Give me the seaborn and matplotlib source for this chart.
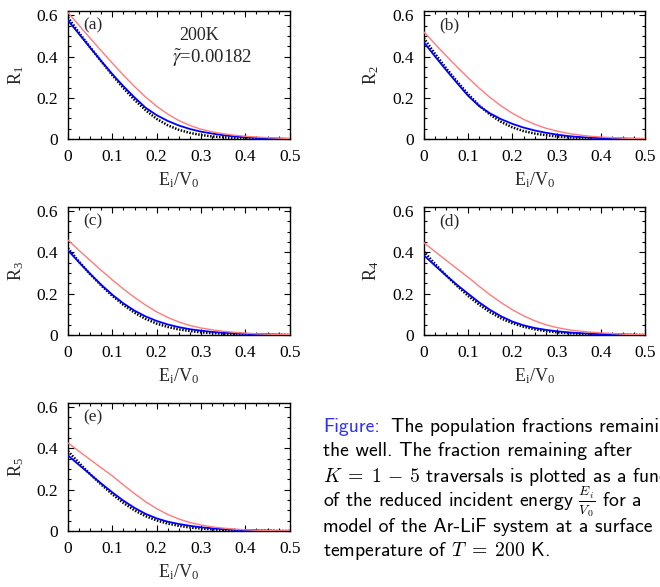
import numpy as np
import pandas as pd
import seaborn as sns
import matplotlib.pyplot as plt

# reduced incident energy E_i/V_0
energy = [0.0, 0.025, 0.05, 0.075, 0.1, 0.125, 0.15, 0.175, 0.2, 0.225, 0.25,
          0.275, 0.3, 0.325, 0.35, 0.375, 0.4, 0.425, 0.45, 0.475, 0.5]

# K = 1
red_1 = [0.613, 0.551, 0.489, 0.428, 0.368, 0.310, 0.255, 0.204, 0.159, 0.121, 0.090,
         0.066, 0.048, 0.035, 0.026, 0.019, 0.014, 0.010, 0.007, 0.005, 0.003]
blue_1 = [0.575, 0.509, 0.443, 0.378, 0.315, 0.256, 0.202, 0.152, 0.116, 0.088, 0.066,
          0.049, 0.036, 0.027, 0.019, 0.013, 0.009, 0.006, 0.004, 0.002, 0.001]
sim_1 = [0.59, 0.515, 0.445, 0.377, 0.31, 0.247, 0.19, 0.14, 0.098, 0.067, 0.045,
         0.030, 0.020, 0.013, 0.009, 0.006, 0.004, 0.002, 0.001, 0.001, 0.0]

# K = 2
red_2 = [0.52, 0.462, 0.405, 0.35, 0.297, 0.247, 0.201, 0.16, 0.125, 0.096, 0.072,
         0.053, 0.039, 0.028, 0.020, 0.014, 0.010, 0.007, 0.005, 0.003, 0.002]
blue_2 = [0.47, 0.402, 0.336, 0.272, 0.21, 0.16, 0.124, 0.096, 0.074, 0.056, 0.042,
          0.031, 0.022, 0.015, 0.010, 0.007, 0.005, 0.003, 0.002, 0.001, 0.001]
sim_2 = [0.49, 0.415, 0.345, 0.28, 0.218, 0.163, 0.118, 0.083, 0.057, 0.039, 0.027,
         0.019, 0.013, 0.009, 0.006, 0.004, 0.003, 0.002, 0.001, 0.0005, 0.0]

# K = 3
red_3 = [0.46, 0.41, 0.361, 0.313, 0.267, 0.223, 0.182, 0.145, 0.112, 0.085, 0.063,
         0.046, 0.034, 0.025, 0.018, 0.013, 0.009, 0.006, 0.004, 0.003, 0.002]
blue_3 = [0.41, 0.352, 0.296, 0.243, 0.195, 0.153, 0.118, 0.09, 0.068, 0.051, 0.038,
          0.028, 0.021, 0.015, 0.011, 0.008, 0.006, 0.004, 0.003, 0.002, 0.001]
sim_3 = [0.42, 0.355, 0.295, 0.24, 0.19, 0.146, 0.108, 0.078, 0.055, 0.039, 0.027,
         0.019, 0.013, 0.009, 0.006, 0.004, 0.003, 0.002, 0.001, 0.0005, 0.0]

# K = 4
red_4 = [0.448, 0.405, 0.363, 0.321, 0.28, 0.236, 0.194, 0.156, 0.122, 0.093, 0.069,
         0.050, 0.036, 0.026, 0.019, 0.014, 0.010, 0.007, 0.004, 0.002, 0.001]
blue_4 = [0.387, 0.337, 0.289, 0.243, 0.2, 0.158, 0.121, 0.09, 0.065, 0.047, 0.034,
          0.025, 0.018, 0.013, 0.009, 0.006, 0.004, 0.003, 0.002, 0.001, 0.001]
sim_4 = [0.406, 0.345, 0.29, 0.238, 0.19, 0.147, 0.11, 0.08, 0.057, 0.04, 0.028,
         0.019, 0.013, 0.009, 0.006, 0.004, 0.003, 0.002, 0.001, 0.0005, 0.0]

# K = 5
red_5 = [0.427, 0.386, 0.346, 0.306, 0.267, 0.223, 0.181, 0.142, 0.108, 0.08, 0.058,
         0.041, 0.029, 0.02, 0.014, 0.009, 0.006, 0.004, 0.002, 0.001, 0.001]
blue_5 = [0.366, 0.32, 0.275, 0.23, 0.187, 0.147, 0.112, 0.083, 0.061, 0.045, 0.034,
          0.025, 0.018, 0.013, 0.009, 0.006, 0.004, 0.003, 0.002, 0.001, 0.001]
sim_5 = [0.387, 0.33, 0.275, 0.225, 0.178, 0.136, 0.1, 0.072, 0.051, 0.036, 0.025,
         0.017, 0.012, 0.008, 0.005, 0.003, 0.002, 0.001, 0.001, 0.0, 0.0]

panel_tags = ["(a)", "(b)", "(c)", "(d)", "(e)"]
x_ticks = [0, 0.1, 0.2, 0.3, 0.4, 0.5]
x_ticklabels = ["0", "0.1", "0.2", "0.3", "0.4", "0.5"]
y_ticks = [0, 0.2, 0.4, 0.6]
y_ticklabels = ["0", "0.2", "0.4", "0.6"]

sns.set_style("ticks")
plt.rcParams["font.family"] = ["Liberation Serif", "DejaVu Serif"]
plt.rcParams["mathtext.fontset"] = "stix"

fig = plt.figure(figsize=(6.6, 5.87), dpi=100)

# axes rectangles in figure fractions
lefts = [0.103, 0.642, 0.103, 0.642, 0.103]
bottoms = [0.763, 0.763, 0.4293, 0.4293, 0.0954]
width, height = 0.336, 0.218

series = [(red_1, blue_1, sim_1), (red_2, blue_2, sim_2), (red_3, blue_3, sim_3),
          (red_4, blue_4, sim_4), (red_5, blue_5, sim_5)]

for k, (red, blue, sim) in enumerate(series):
    ax = fig.add_axes([lefts[k], bottoms[k], width, height])
    df = pd.DataFrame({"E": energy, "red": red, "blue": blue, "sim": sim})
    sns.lineplot(data=df, x="E", y="sim", ax=ax, color="black", lw=1.8,
                 linestyle=(0, (0.6, 0.6)), zorder=2)
    sns.lineplot(data=df, x="E", y="blue", ax=ax, color="#0000ff", lw=1.3, zorder=3)
    sns.lineplot(data=df, x="E", y="red", ax=ax, color="#ff7b7b", lw=1.0, zorder=4)

    ax.set_xlim(0, 0.5)
    ax.set_ylim(0, 0.62)
    ax.set_xticks(x_ticks)
    ax.set_xticklabels(x_ticklabels)
    ax.set_yticks(y_ticks)
    ax.set_yticklabels(y_ticklabels)
    ax.set_xticks(np.arange(0, 0.5001, 0.025), minor=True)
    ax.set_yticks(np.arange(0, 0.6001, 0.05), minor=True)
    ax.tick_params(which="both", direction="in", top=True, right=True,
                   labelsize=12.5, width=0.8, colors="black")
    ax.tick_params(which="major", length=4.5, pad=7)
    ax.tick_params(which="minor", length=2.2)
    for s in ax.spines.values():
        s.set_linewidth(1.0)
        s.set_color("black")

    ax.set_xlabel(r"$\mathregular{E_i/V_0}$", fontsize=13, labelpad=4)
    ax.set_ylabel(r"$\mathregular{R_%d}$" % (k + 1), fontsize=13, labelpad=8)
    ax.text(0.068, 0.89, panel_tags[k], transform=ax.transAxes, fontsize=12.5,
            va="center", ha="left")
    if k == 0:
        ax.text(0.50, 0.81, "200K", transform=ax.transAxes, fontsize=13,
                va="center", ha="left")
        ax.text(0.47, 0.63, r"$\tilde{\gamma}$=0.00182", transform=ax.transAxes,
                fontsize=13.5, va="center", ha="left")

# caption text to the right of panel (e)
caption_lines = [
    "The population fractions remaining in",
    "the well. The fraction remaining after",
    r"$K\;=\;1\,-\,5$ traversals is plotted as a function",
    r"of the reduced incident energy $\frac{E_i}{V_0}$ for a",
    "model of the Ar-LiF system at a surface",
    r"temperature of $T\;=\;200$ K.",
]
cap_x = 323 / 660
cap_size = 14.2
for i, line in enumerate(caption_lines):
    y = 1 - (431.5 + 25 * i) / 587
    if i == 0:
        fig.text(cap_x, y, "Figure:", color="#3030f0", family="cmss10",
                 fontsize=cap_size, va="baseline", ha="left")
        fig.text(391 / 660, y, line, color="black", family="cmss10",
                 fontsize=cap_size, va="baseline", ha="left", math_fontfamily="cm")
    else:
        fig.text(cap_x, y, line, color="black", family="cmss10",
                 fontsize=cap_size, va="baseline", ha="left", math_fontfamily="cm")

plt.savefig("out.png", dpi=100)
